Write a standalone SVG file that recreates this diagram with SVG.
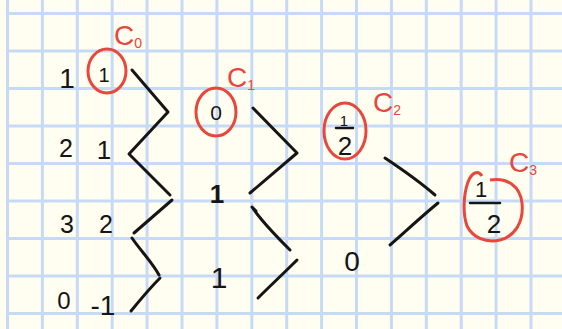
<svg xmlns="http://www.w3.org/2000/svg" width="562" height="329" viewBox="0 0 562 329">
<defs>
<style>
.bg{fill:#FFFEF0}
.grid line{stroke:#C6DAF5;stroke-width:3}
.num{font-family:"Liberation Sans","DejaVu Sans",sans-serif;font-size:24px;fill:#151515;text-anchor:middle}
.lab{font-family:"Liberation Sans","DejaVu Sans",sans-serif;font-size:28px;fill:#E8473D}
.sub{font-size:14px}
.ring{fill:none;stroke:#E8473D;stroke-width:3}
.ink{fill:none;stroke:#151515;stroke-width:3;stroke-linecap:round;stroke-linejoin:round}
.bar{stroke:#151515;stroke-width:2.5;stroke-linecap:round}
</style>
</defs>
<rect class="bg" x="0" y="0" width="562" height="329"/>
<g class="grid">
<line x1="7.5" y1="0" x2="7.5" y2="329"/>
<line x1="42.4" y1="0" x2="42.4" y2="329"/>
<line x1="77.3" y1="0" x2="77.3" y2="329"/>
<line x1="112.2" y1="0" x2="112.2" y2="329"/>
<line x1="147.1" y1="0" x2="147.1" y2="329"/>
<line x1="182" y1="0" x2="182" y2="329"/>
<line x1="216.9" y1="0" x2="216.9" y2="329"/>
<line x1="251.8" y1="0" x2="251.8" y2="329"/>
<line x1="286.7" y1="0" x2="286.7" y2="329"/>
<line x1="321.6" y1="0" x2="321.6" y2="329"/>
<line x1="356.5" y1="0" x2="356.5" y2="329"/>
<line x1="391.4" y1="0" x2="391.4" y2="329"/>
<line x1="426.3" y1="0" x2="426.3" y2="329"/>
<line x1="461.2" y1="0" x2="461.2" y2="329"/>
<line x1="496.1" y1="0" x2="496.1" y2="329"/>
<line x1="531" y1="0" x2="531" y2="329"/>
<line x1="7.5" y1="13.5" x2="562" y2="13.5"/>
<line x1="7.5" y1="51" x2="562" y2="51"/>
<line x1="7.5" y1="88.5" x2="562" y2="88.5"/>
<line x1="7.5" y1="126" x2="562" y2="126"/>
<line x1="7.5" y1="163.5" x2="562" y2="163.5"/>
<line x1="7.5" y1="201" x2="562" y2="201"/>
<line x1="7.5" y1="238.5" x2="562" y2="238.5"/>
<line x1="7.5" y1="276" x2="562" y2="276"/>
<line x1="7.5" y1="313.5" x2="562" y2="313.5"/>
</g>

<g id="col-a">
<text class="num" x="67" y="88" style="font-size:28px">1</text>
<text class="num" x="66" y="157" style="font-size:25px">2</text>
<text class="num" x="67" y="233" style="font-size:25px">3</text>
<text class="num" x="64" y="309">0</text>
</g>

<g id="col-b">
<ellipse class="ring" cx="107" cy="71" rx="19" ry="22"/>
<text class="num" x="104" y="82" style="font-size:20px">1</text>
<text class="num" x="104" y="159" style="font-size:26px">1</text>
<text class="num" x="106" y="233" style="font-size:25px">2</text>
<text class="num" x="103" y="315" style="font-size:28px">-1</text>
<text class="lab" x="114" y="45">C<tspan class="sub" dy="3">0</tspan></text>
</g>

<g id="col-c">
<ellipse class="ring" cx="216" cy="112" rx="20" ry="24"/>
<text class="num" x="216" y="120" style="font-size:21px">0</text>
<text class="num" x="217" y="203" style="font-size:26px;font-weight:bold">1</text>
<text class="num" x="219" y="288" style="font-size:30px">1</text>
<text class="lab" x="227" y="87">C<tspan class="sub" dy="3">1</tspan></text>
</g>

<g id="col-d">
<ellipse class="ring" cx="345" cy="131" rx="21" ry="28"/>
<text class="num" x="344" y="126" style="font-size:15px">1</text>
<line class="bar" x1="336" y1="128" x2="353" y2="128"/>
<text class="num" x="345" y="155" style="font-size:26px">2</text>
<text class="num" x="352" y="271" style="font-size:28px">0</text>
<text class="lab" x="373" y="112">C<tspan class="sub" dy="3">2</tspan></text>
</g>

<g id="col-e">
<path class="ring" d="M482,176 C478,170 472,172 468,182 C463,196 463,215 467,226 C473,238 486,243 500,240 C515,236 524,222 522,203 C520,186 507,177 490,180"/>
<text class="num" x="481" y="197" style="font-size:22px">1</text>
<line class="bar" x1="470" y1="203" x2="500" y2="203"/>
<text class="num" x="494" y="233" style="font-size:26px">2</text>
<text class="lab" x="509" y="172">C<tspan class="sub" dy="3">3</tspan></text>
</g>

<g id="connectors">
<path class="ink" d="M132,70 L168,112 L129,154 L170,195"/>
<path class="ink" d="M172,200 L134,233"/>
<path class="ink" d="M132,238 C140,250 152,262 159,275"/>
<path class="ink" d="M160,278 C150,288 140,300 131,311"/>
<path class="ink" d="M253,108 L297,153 L250,193"/>
<path class="ink" d="M256,211 L252,207 C262,222 278,238 290,250"/>
<path class="ink" d="M297,260 C285,272 270,286 258,298 L260,296"/>
<path class="ink" d="M385,158 C400,168 420,182 435,195"/>
<path class="ink" d="M438,203 C422,216 405,232 390,245"/>
</g>
</svg>
